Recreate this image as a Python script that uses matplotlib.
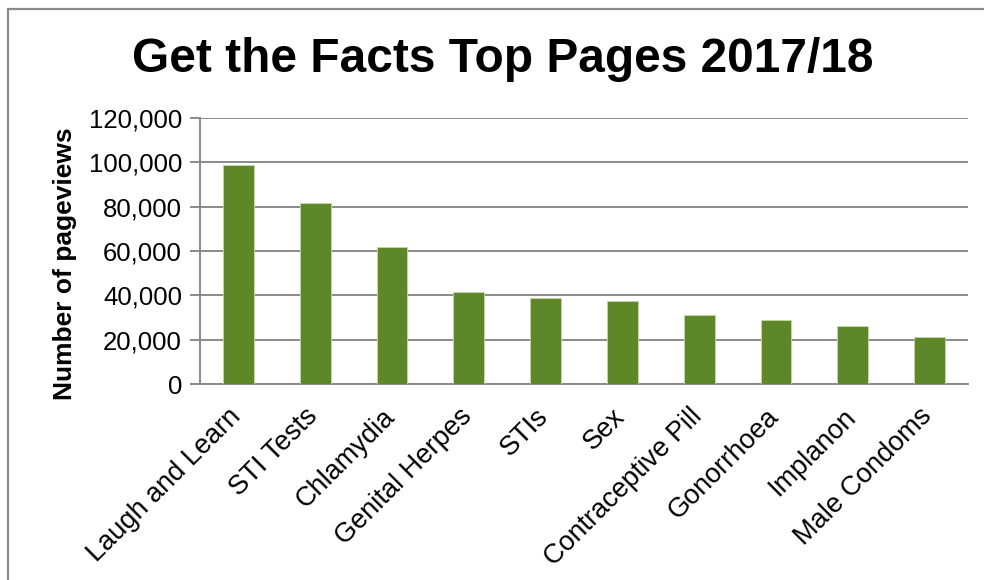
import matplotlib
matplotlib.use('Agg')
from matplotlib import pyplot as plt
from matplotlib.ticker import FuncFormatter
from matplotlib.transforms import ScaledTranslation
import numpy as np

pages = ["Laugh and Learn", "STI Tests", "Chlamydia", "Genital Herpes", "STIs",
         "Sex", "Contraceptive Pill", "Gonorrhoea", "Implanon", "Male Condoms"]
pageviews = [98800, 81700, 61800, 41500, 38700, 37400, 31300, 28700, 26200, 21300]
yticks = [0, 20000, 40000, 60000, 80000, 100000, 120000]

plt.rcParams['font.family'] = ['Liberation Sans', 'DejaVu Sans']

fig = plt.figure(figsize=(9.84, 5.8), dpi=100)
ax = fig.add_axes([0.2033, 0.3379, 0.7804, 0.4587])

x = np.arange(len(pages))
ax.bar(x, pageviews, width=0.4, color="#5e8729", edgecolor="#c5d8a4",
       linewidth=0.6, zorder=3)

ax.set_xlim(-0.5, len(pages) - 0.5)
ax.set_ylim(0, 120000)
ax.set_yticks(yticks)
ax.yaxis.set_major_formatter(FuncFormatter(lambda v, p: f"{int(v):,}"))
ax.grid(axis='y', color="#8a8a8a", linewidth=1.4, zorder=0)
ax.tick_params(axis='y', length=7, width=1.4, color="#8a8a8a", labelsize=18.5, pad=6)
ax.tick_params(axis='x', length=0, labelsize=19.5, pad=14)
ax.set_xticks(x)
ax.set_xticklabels(pages, rotation=45, ha='right')
# nudge the slanted labels a little to the right, like the original
shift = ScaledTranslation(8 / 100, 0, fig.dpi_scale_trans)
for lbl in ax.get_xticklabels():
    lbl.set_transform(lbl.get_transform() + shift)

for side in ['top', 'right']:
    ax.spines[side].set_visible(False)
for side in ['left', 'bottom']:
    ax.spines[side].set_color("#8a8a8a")
    ax.spines[side].set_linewidth(1.4)

ax.set_ylabel("Number of pageviews", fontsize=19, fontweight='bold')
ax.yaxis.set_label_coords(-0.16, 0.451)

fig.text(0.511, 0.898, "Get the Facts Top Pages 2017/18", ha='center', va='center',
         fontsize=34.5, fontweight='bold')

# outer frame of the chart object (only left and top edges are visible)
frame = plt.Rectangle((8 / 984, -0.1), 1.2, (580 - 9) / 580 + 0.1,
                      transform=fig.transFigure, fill=False,
                      edgecolor="#8a8a8a", linewidth=1.6)
fig.patches.append(frame)

plt.savefig("out.png", dpi=100)
